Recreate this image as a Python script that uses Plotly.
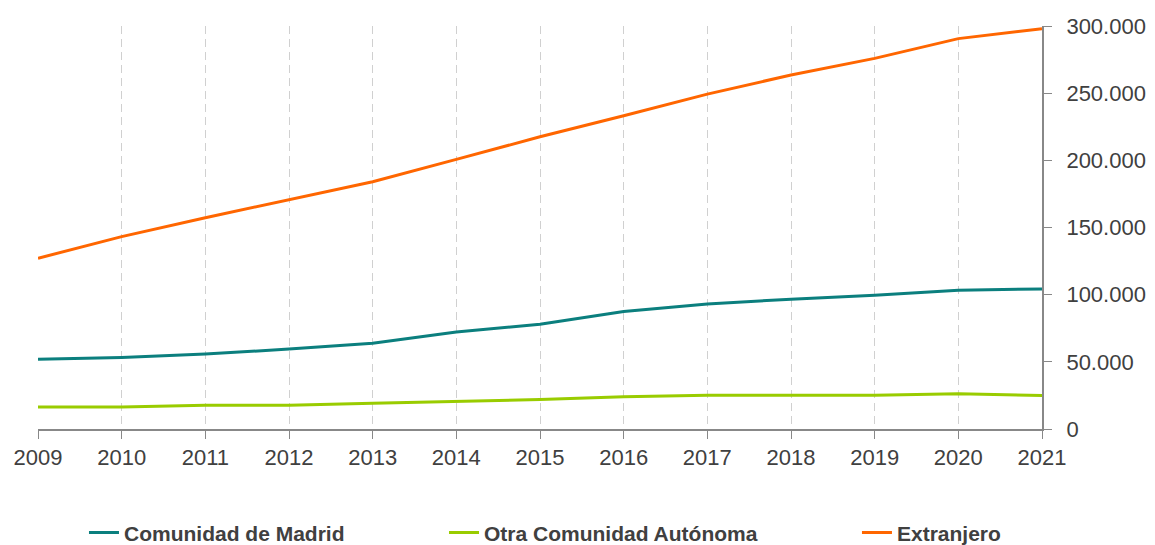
import plotly.graph_objects as go

years = [2009, 2010, 2011, 2012, 2013, 2014, 2015, 2016, 2017, 2018, 2019, 2020, 2021]
madrid = [51900, 53200, 55800, 59500, 63900, 72200, 78000, 87500, 93100, 96600, 99500, 103200, 104300]
otra = [16400, 16400, 17600, 17700, 19100, 20400, 21900, 24000, 25200, 25200, 25200, 26200, 25000]
extranjero = [127100, 143200, 157300, 170500, 184100, 200700, 217500, 233200, 249300, 263500, 275900, 290600, 298000]

y_ticks = [0, 50000, 100000, 150000, 200000, 250000, 300000]

series = [
    ("Comunidad de Madrid", madrid, "#0b7f7e", "legend"),
    ("Otra Comunidad Autónoma", otra, "#99cc00", "legend2"),
    ("Extranjero", extranjero, "#ff6600", "legend3"),
]

fig = go.Figure()
for name, vals, color, lg in series:
    fig.add_trace(go.Scatter(x=years, y=vals, name=name, mode="lines",
                             line=dict(color=color, width=3), legend=lg))

txt = "#404040"
font_family = "Liberation Sans, Arial, sans-serif"
legend_font = dict(size=21, color=txt, family=font_family, weight="bold")


def legend_at(xpos):
    return dict(orientation="h", x=xpos, xanchor="left", y=-0.258, yanchor="middle",
                font=legend_font, bgcolor="rgba(0,0,0,0)", borderwidth=0)


# the page body has an 8px margin, so the figure is offset by 8px
fig.update_layout(
    width=1139, height=537,
    margin=dict(l=30, r=105, t=18, b=116, autoexpand=False),
    paper_bgcolor="white", plot_bgcolor="white",
    separators=",.",
    font=dict(family=font_family, size=22, color=txt),
    showlegend=True,
    legend=legend_at(0.0458),
    legend2=legend_at(0.4044),
    legend3=legend_at(0.8157),
    xaxis=dict(range=[2009, 2021], tickvals=years, ticktext=[str(y) for y in years],
               showgrid=True, gridcolor="#d0d0d0", griddash="8px,5px", gridwidth=1,
               showline=True, linecolor="#888888", linewidth=2,
               ticks="outside", ticklen=8, tickcolor="#888888", tickwidth=1,
               zeroline=False, fixedrange=True),
    yaxis=dict(range=[0, 300000], side="right", tickvals=y_ticks, tickformat=",d",
               showgrid=False, showline=True, linecolor="#888888", linewidth=2,
               ticks="outside", ticklen=8, tickcolor="#888888", tickwidth=1,
               zeroline=False, fixedrange=True, ticklabelstandoff=10),
)

fig.write_html("out.html")
